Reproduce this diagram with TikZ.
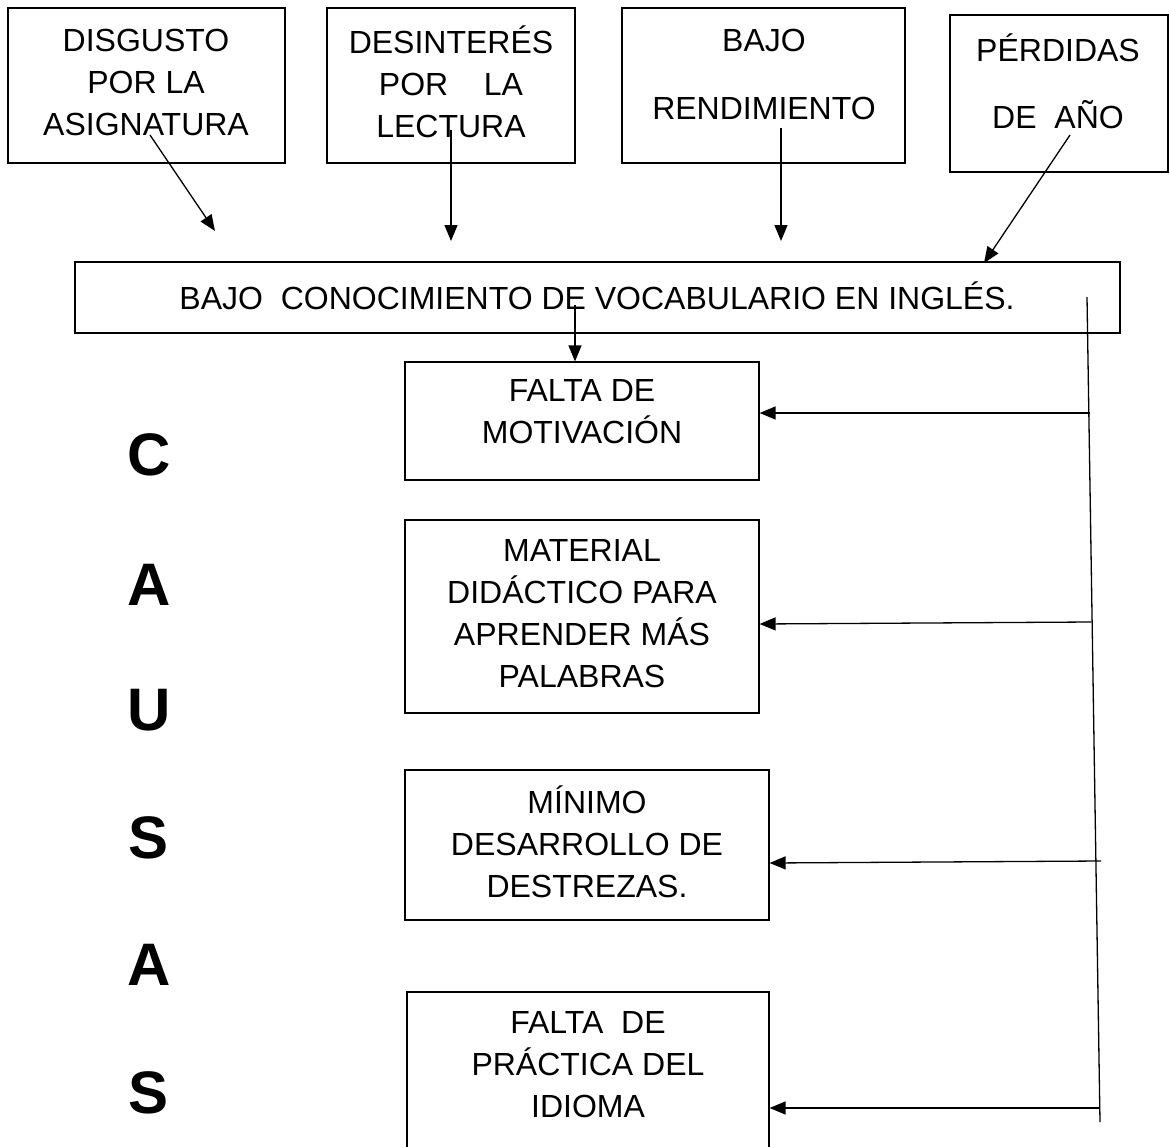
\documentclass[tikz,border=0pt]{standalone}
\usepackage{fontspec}
\setmainfont{Liberation Sans}
\usetikzlibrary{arrows.meta}
\begin{document}
\begin{tikzpicture}[x=1pt,y=-1pt,
  box/.style={draw,line width=1.2pt,inner sep=0pt},
  txt/.style={align=center,inner sep=0pt,font=\fontsize{32}{42}\selectfont},
  big/.style={inner sep=0pt,font=\fontsize{60}{60}\selectfont\bfseries},
  conn/.style={line width=1.3pt,-{Triangle[length=16pt,width=13pt]}},
  plain/.style={line width=1.3pt}]
\useasboundingbox (0,0) rectangle (1170,1146);
\clip (0,0) rectangle (1170,1146);
% top boxes
\node[box,minimum width=277pt,minimum height=155pt] (b1) at (146.5,85.5) {};
\node[txt] (t1) at (146,82) {DISGUSTO\\POR LA\\ASIGNATURA};
\node[box,minimum width=248pt,minimum height=155pt] (b2) at (451,85.5) {};
\node[txt] (t2) at (451,82) {DESINTERÉS\\POR\ \ \ \ LA\\LECTURA};
\node[box,minimum width=283pt,minimum height=155pt] (b3) at (763.5,85.5) {};
\node[txt] (t3) at (764,74) {BAJO\\[26pt]RENDIMIENTO};
\node[box,minimum width=218pt,minimum height=157pt] (b4) at (1059,93.5) {};
\node[txt] (t4) at (1058,81.5) {PÉRDIDAS\\[25pt]DE\ \ AÑO};
% main box
\node[box,minimum width=1045pt,minimum height=71pt] (mb) at (597.5,297.5) {};
\node[txt] (mt) at (597,296) {BAJO\ \ CONOCIMIENTO DE VOCABULARIO EN INGLÉS.};
% cause boxes
\node[box,minimum width=354pt,minimum height=118pt] (c1) at (582,421) {};
\node[txt] (ct1) at (582,412) {FALTA DE\\MOTIVACIÓN};
\node[box,minimum width=354pt,minimum height=193pt] (c2) at (582,616.5) {};
\node[txt] (ct2) at (582,614) {MATERIAL\\DIDÁCTICO PARA\\APRENDER MÁS\\PALABRAS};
\node[box,minimum width=364pt,minimum height=150pt] (c3) at (587,845) {};
\node[txt] (ct3) at (587,842) {MÍNIMO\\DESARROLLO DE\\DESTREZAS.};
\node[box,minimum width=362pt,minimum height=200pt] (c4) at (588,1092) {};
\node[txt] (ct4) at (588,1064.5) {FALTA\ \ DE\\PRÁCTICA DEL\\IDIOMA};
% CAUSAS
\node[big] (L1) at (149,455) {C};
\node[big] (L2) at (149,585) {A};
\node[big] (L3) at (149,710) {U};
\node[big] (L4) at (149,838) {S};
\node[big] (L5) at (149,965) {A};
\node[big] (L6) at (149,1093) {S};
% connectors top
\coordinate (s1) at (150,135); \coordinate (e1) at (215,231);
\coordinate (s2) at (451,130); \coordinate (e2) at (451,241);
\coordinate (s3) at (781,128); \coordinate (e3) at (781,241);
\coordinate (s4) at (1070,135); \coordinate (e4) at (984,263);
\draw[conn] (s1) -- (e1);
\draw[conn] (s2) -- (e2);
\draw[conn] (s3) -- (e3);
\draw[conn] (s4) -- (e4);
\coordinate (s5) at (575,305);
\draw[conn] (s5) -- (575,0 |- c1.north);
% right line
\coordinate (vt) at (1087,297); \coordinate (vb) at (1100,1122);
\draw[plain] (vt) -- (vb);
\coordinate (h1) at (1090,413);
\coordinate (h2) at (1091,622);
\coordinate (h3) at (1101,861);
\coordinate (h4) at (1100,1108);
\draw[conn] (h1) -- (h1 -| c1.east);
\draw[conn] (h2) -- ([yshift=-2pt]h2 -| c2.east);
\draw[conn] (h3) -- ([yshift=-2pt]h3 -| c3.east);
\draw[conn] (h4) -- (h4 -| c4.east);
\end{tikzpicture}
\end{document}
